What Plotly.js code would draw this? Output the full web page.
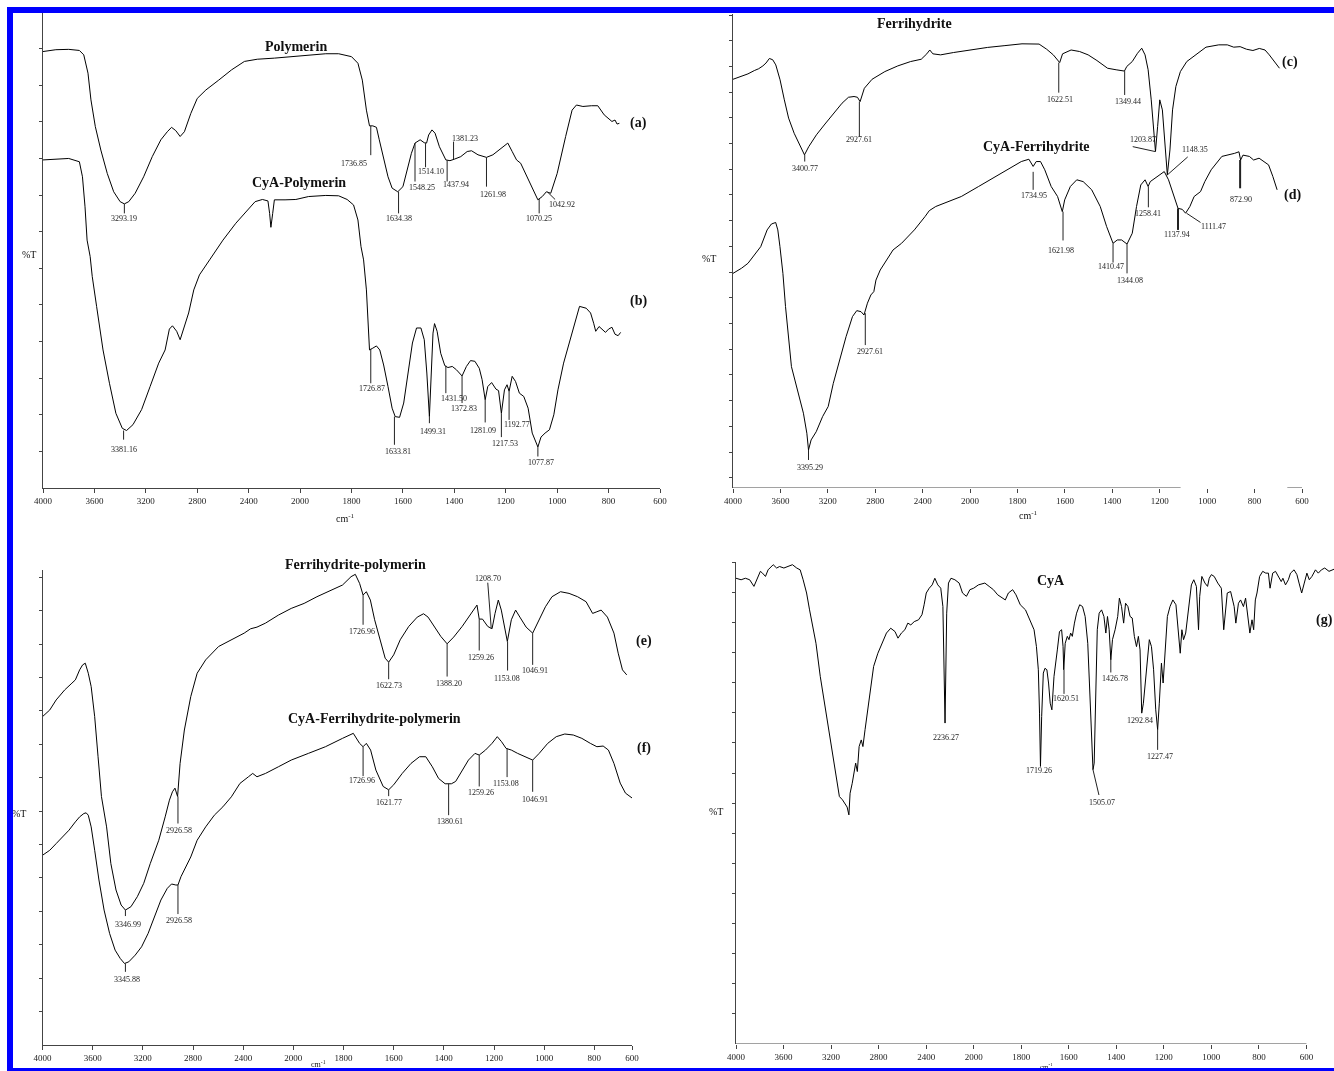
<!DOCTYPE html>
<html><head><meta charset="utf-8">
<script src="https://cdn.plot.ly/plotly-3.0.1.min.js"></script>
<style>
html,body{margin:0;padding:0;background:#fff}
#wrap{position:relative;width:1334px;height:1071px;overflow:hidden}
#chart{width:1334px;height:1071px;filter:grayscale(1)}
.band{position:absolute;background:#0000ff}
</style>
</head><body>
<div id="wrap">
<div id="chart"></div>
<div class="band" style="left:7px;top:7px;width:1327px;height:6px"></div>
<div class="band" style="left:7px;top:7px;width:6px;height:1064px"></div>
<div class="band" style="left:7px;top:1068px;width:1327px;height:3px"></div>
</div>
<script>
// ---------------- DATA (wavenumber cm-1, transmittance in arbitrary %T units) ----------------
const tickLabels = ['4000','3600','3200','2800','2400','2000','1800','1600','1400','1200','1000','800','600'];

// (a) Polymerin
const polymerinWn = [4000,3900,3800,3717,3683,3650,3627,3593,3550,3500,3450,3400,3367,3333,3283,3217,3150,3083,3033,3000,2967,2933,2900,2850,2800,2733,2633,2533,2433,2333,2200,2067,1967,1900,1850,1800,1775,1758,1742,1730,1717,1703,1692,1675,1658,1642,1620,1600,1583,1567,1553,1533,1517,1508,1500,1487,1475,1458,1433,1417,1400,1375,1350,1333,1308,1275,1250,1217,1192,1175,1158,1142,1117,1092,1075,1058,1042,1025,1000,967,942,925,900,867,842,817,800,787,775,767,758];
const polymerinT = [11.92,11.97,11.98,11.95,11.83,11.33,10.60,9.87,9.23,8.59,8.09,7.82,7.76,7.82,8.05,8.50,9.05,9.51,9.73,9.85,9.76,9.60,9.73,10.23,10.64,10.87,11.14,11.42,11.65,11.71,11.74,11.78,11.83,11.86,11.86,11.78,11.60,11.14,10.32,9.89,9.89,9.85,9.51,8.96,8.50,8.19,8.09,8.23,8.69,9.14,9.42,9.51,9.43,9.42,9.64,9.78,9.69,9.32,8.96,8.94,8.98,9.05,9.19,9.21,9.10,9.03,9.10,9.28,9.42,9.19,8.96,8.87,8.50,8.09,7.87,7.96,8.09,8.05,8.59,9.60,10.32,10.46,10.42,10.44,10.44,10.19,10.10,10.01,10.05,9.94,9.96];

// (b) CyA-Polymerin
const cyaPolymerinWn = [4000,3900,3800,3717,3693,3673,3657,3633,3617,3583,3533,3483,3433,3383,3350,3300,3233,3167,3100,3050,3017,2993,2960,2933,2900,2867,2827,2783,2700,2633,2600,2500,2417,2350,2293,2250,2237,2227,2213,2200,2117,2033,1967,1900,1850,1817,1792,1775,1763,1753,1742,1730,1717,1703,1690,1675,1658,1642,1630,1613,1597,1580,1563,1547,1530,1517,1507,1497,1490,1483,1477,1467,1453,1437,1425,1408,1392,1370,1353,1337,1320,1303,1292,1280,1270,1255,1238,1228,1217,1205,1195,1187,1175,1162,1147,1130,1113,1097,1075,1063,1047,1030,1013,997,975,950,930,913,887,870,858,850,837,823,812,800,787,775,763,753];
const cyaPolymerinT = [8.96,8.98,9.00,8.91,8.50,7.68,6.77,6.32,5.78,4.96,3.77,2.86,2.04,1.63,1.57,1.73,2.14,2.77,3.41,3.77,4.34,4.43,4.28,4.05,4.39,4.78,5.41,5.82,6.25,6.60,6.77,7.23,7.55,7.82,7.88,7.84,7.50,7.12,7.50,7.87,7.87,7.88,7.96,7.99,7.98,7.88,7.73,7.32,6.59,6.23,5.41,3.77,3.82,3.88,3.77,3.36,2.77,2.18,1.95,1.93,2.32,3.14,3.96,4.37,4.37,4.05,3.14,1.95,3.14,4.23,4.49,4.28,3.68,3.34,3.29,3.32,3.23,3.06,3.32,3.48,3.46,3.27,2.96,2.41,2.77,2.88,2.70,2.66,2.04,2.68,2.82,2.64,3.05,2.91,2.59,2.50,2.18,1.50,1.12,1.39,1.50,1.59,2.00,2.68,3.41,4.05,4.59,4.96,4.91,4.78,4.50,4.28,4.41,4.32,4.25,4.34,4.39,4.20,4.16,4.25];

// (c) Ferrihydrite
const ferriWn = [4000,3928,3874,3820,3784,3748,3722,3693,3665,3639,3603,3567,3531,3484,3441,3397,3361,3296,3224,3152,3080,3026,2979,2950,2928,2892,2827,2719,2610,2502,2412,2365,2340,2314,2249,2141,2000,1926,1853,1781,1709,1677,1649,1622,1610,1574,1538,1502,1465,1420,1384,1349,1339,1316,1294,1276,1262,1249,1236,1225,1218,1209,1200,1189,1180,1168,1157,1146,1132,1113,1086,1050,1005,951,915,888,861,834,807,780,756,738,716,695];
const ferriT = [15.90,16.01,16.11,16.24,16.31,16.42,16.53,16.71,16.66,16.46,15.88,15.10,14.39,13.80,13.41,12.96,13.28,13.74,14.16,14.58,14.97,15.20,15.23,15.20,15.03,15.55,15.90,16.20,16.42,16.59,16.68,16.89,17.04,16.89,16.85,16.94,17.04,17.14,17.21,17.28,17.27,17.07,16.85,16.55,16.89,17.04,16.98,16.85,16.63,16.33,16.27,16.22,16.40,16.59,16.91,17.11,16.85,16.27,15.10,13.80,13.09,14.06,15.10,14.71,13.54,12.18,13.15,14.71,15.62,16.20,16.59,16.85,17.15,17.24,17.24,17.15,17.17,17.07,17.02,17.10,17.04,16.85,16.59,16.33];

// (d) CyA-Ferrihydrite
const cyaFerriWn = [4000,3928,3874,3820,3766,3712,3676,3640,3622,3604,3579,3557,3532,3507,3478,3442,3406,3377,3363,3341,3298,3244,3197,3154,3100,3046,2992,2956,2920,2895,2866,2837,2812,2794,2758,2704,2650,2578,2470,2380,2344,2290,2182,2074,1964,1892,1838,1784,1752,1734,1721,1703,1685,1658,1631,1611,1601,1577,1550,1523,1487,1451,1424,1397,1379,1361,1338,1316,1298,1280,1262,1249,1240,1208,1181,1163,1145,1123,1105,1091,1073,1055,1028,1010,983,938,884,866,859,849,822,804,781,759,741,723,705];
const cyaFerriT = [8.35,8.55,8.74,9.07,9.39,10.04,10.27,10.33,10.04,9.39,8.35,7.06,5.76,4.72,4.20,3.55,2.91,2.13,1.48,1.87,2.19,2.78,3.17,4.07,4.98,5.89,6.67,6.90,6.86,6.73,7.19,7.51,7.64,8.09,8.48,8.87,9.26,9.52,10.04,10.56,10.79,10.95,11.14,11.34,11.73,12.12,12.38,12.70,12.79,12.51,12.70,12.70,12.38,11.73,11.34,10.75,11.21,11.73,11.99,11.92,11.60,10.95,10.17,9.52,9.65,9.65,9.49,9.91,10.95,11.79,11.99,11.73,11.92,12.12,12.31,11.99,11.47,10.88,10.84,10.69,10.95,11.34,11.53,11.92,12.38,12.90,13.02,13.08,12.76,12.95,12.90,12.76,12.83,12.70,12.57,12.12,11.60];

// (e) Ferrihydrite-polymerin
const ferriPolyWn = [4000,3942,3891,3823,3772,3738,3704,3680,3659,3635,3612,3584,3557,3530,3489,3455,3414,3373,3339,3295,3244,3193,3141,3073,3022,2988,2964,2944,2923,2903,2869,2818,2767,2699,2596,2494,2392,2341,2290,2222,2119,2017,1957,1906,1855,1804,1770,1753,1736,1722,1709,1693,1676,1654,1634,1620,1600,1574,1540,1506,1481,1463,1438,1412,1387,1361,1327,1293,1268,1259,1246,1225,1208,1196,1183,1171,1157,1147,1131,1114,1097,1072,1046,1020,995,969,935,901,867,833,807,790,773,748,722,705,688,671];
const ferriPolyT = [9.83,10.03,10.33,10.63,10.81,10.93,11.23,11.38,11.43,11.13,10.73,9.83,8.63,7.44,6.53,5.43,4.64,4.19,4.04,4.14,4.44,4.84,5.43,6.13,6.83,7.33,7.58,7.69,7.44,8.43,9.43,10.43,11.13,11.53,11.93,12.13,12.33,12.46,12.51,12.63,12.87,13.07,13.22,13.42,13.60,13.77,14.02,14.09,13.82,13.47,13.57,13.32,12.73,12.13,11.58,11.46,11.68,12.13,12.53,12.81,12.91,12.81,12.53,12.23,12.01,12.21,12.53,12.92,13.17,12.75,12.75,12.53,12.46,12.92,13.32,13.02,12.53,12.08,12.73,13.02,12.81,12.51,12.33,12.71,13.12,13.42,13.57,13.52,13.42,13.27,12.92,12.97,13.02,12.81,12.33,11.73,11.23,11.08];

// (f) CyA-Ferrihydrite-polymerin
const cyaFerriPolyWn = [4000,3942,3891,3840,3789,3738,3704,3670,3652,3635,3612,3584,3550,3509,3465,3421,3380,3346,3312,3261,3210,3158,3107,3056,3005,2971,2937,2920,2896,2862,2818,2767,2699,2630,2562,2494,2426,2358,2324,2290,2222,2119,2017,1940,1872,1804,1761,1736,1722,1709,1692,1671,1642,1620,1600,1566,1531,1497,1472,1446,1421,1395,1370,1353,1327,1302,1276,1259,1234,1208,1187,1170,1152,1131,1106,1072,1046,1020,986,952,918,884,850,816,790,765,744,722,697,676,649];
const cyaFerriPolyT = [5.68,5.83,6.03,6.23,6.43,6.68,6.83,6.93,6.95,6.88,6.53,5.83,4.94,4.04,3.34,2.84,2.59,2.44,2.49,2.69,2.94,3.34,3.84,4.34,4.69,4.82,4.79,4.79,5.04,5.28,5.63,6.13,6.53,6.88,7.13,7.43,7.83,8.03,8.13,8.03,8.13,8.33,8.53,8.73,8.93,9.18,9.33,9.03,8.93,9.03,8.83,8.23,7.74,7.64,7.79,8.13,8.43,8.63,8.63,8.33,7.98,7.82,7.82,7.89,8.23,8.53,8.73,8.68,8.83,9.03,9.23,9.08,8.88,8.83,8.73,8.63,8.53,8.73,9.03,9.23,9.31,9.28,9.18,9.03,8.93,8.95,8.83,8.43,7.84,7.54,7.39];

// (g) CyA
const cyaWn = [4000,3957,3921,3885,3849,3831,3795,3777,3752,3730,3705,3687,3658,3633,3597,3561,3525,3489,3460,3435,3406,3381,3356,3327,3291,3255,3219,3183,3155,3130,3104,3083,3065,3050,3040,3022,3004,2993,2979,2964,2946,2932,2914,2878,2842,2806,2770,2734,2698,2662,2637,2608,2579,2554,2529,2500,2464,2435,2417,2399,2374,2349,2327,2302,2277,2259,2241,2227,2212,2191,2158,2122,2094,2061,2032,2000,1980,1953,1935,1917,1899,1881,1867,1854,1836,1822,1804,1782,1764,1746,1736,1728,1723,1719,1714,1707,1700,1692,1685,1678,1671,1662,1648,1639,1630,1624,1621,1615,1606,1599,1592,1585,1576,1567,1554,1542,1531,1520,1513,1505,1498,1493,1487,1480,1472,1462,1452,1444,1437,1430,1423,1416,1405,1394,1387,1378,1369,1361,1351,1342,1333,1324,1315,1307,1300,1293,1286,1279,1268,1261,1252,1243,1234,1226,1219,1210,1203,1196,1185,1174,1162,1149,1138,1131,1124,1117,1108,1095,1084,1074,1063,1054,1049,1040,1027,1016,1009,1000,988,973,958,948,941,933,919,904,897,886,877,865,856,847,838,829,822,815,808,797,784,771,760,753,742,730,717,706,699,688,676,667,652,640,631,620,609,598,588,577,562,550,537,523,505,490,472];
const cyaT = [15.47,15.42,15.47,15.42,15.20,15.36,15.70,15.64,15.53,15.75,15.86,15.92,15.81,15.86,15.81,15.86,15.92,15.81,15.75,15.42,14.98,14.42,13.87,13.31,12.21,11.32,10.44,9.55,8.77,8.22,8.11,8.00,7.87,7.61,8.33,8.66,9.11,9.33,9.05,9.88,10.10,9.88,10.44,11.54,12.54,12.98,13.31,13.65,13.81,13.70,13.48,13.65,13.76,13.98,13.92,14.03,14.09,14.26,14.59,14.98,15.14,15.25,15.47,15.25,15.14,14.53,10.66,14.31,15.31,15.47,15.42,15.31,14.98,14.87,15.09,15.14,15.25,15.31,15.20,15.09,14.92,14.81,14.75,14.98,15.09,14.92,14.59,14.42,14.09,13.76,13.20,12.43,10.99,9.22,10.88,12.32,12.48,12.43,11.99,11.32,11.10,12.21,13.09,13.70,13.76,13.20,12.43,13.31,13.54,13.43,13.65,13.54,13.98,14.31,14.59,14.53,14.20,13.31,11.99,10.21,9.11,9.33,11.54,13.76,14.31,14.42,14.20,13.65,14.20,13.76,12.76,13.43,13.76,14.20,14.81,14.53,13.98,14.64,14.53,14.20,14.15,13.54,13.20,13.54,13.09,10.99,11.32,11.88,12.87,13.43,13.20,12.43,11.10,10.44,11.32,12.65,11.99,12.87,14.20,14.53,14.75,14.59,13.54,12.98,13.76,13.43,13.65,14.64,15.25,15.42,15.20,13.76,14.87,15.53,15.31,15.20,15.47,15.59,15.53,15.31,15.14,13.76,14.31,14.98,15.03,14.53,13.98,14.64,14.75,14.53,14.81,14.20,13.65,14.09,13.76,14.75,14.98,15.53,15.70,15.64,15.64,15.14,15.64,15.70,15.53,15.36,15.47,15.25,15.42,15.64,15.75,15.59,15.31,14.98,15.31,15.64,15.42,15.53,15.75,15.64,15.75,15.81,15.70,15.75,15.81];

// peak labels (cm-1)
const peaksA = [3293.19,1736.85,1634.38,1548.25,1514.10,1437.94,1381.23,1261.98,1070.25,1042.92];
const peaksB = [3381.16,1726.87,1633.81,1499.31,1431.50,1372.83,1281.09,1217.53,1192.77,1077.87];
const peaksC = [3400.77,2927.61,1622.51,1349.44,1203.87,1148.35];
const peaksD = [3395.29,2927.61,1734.95,1621.98,1410.47,1344.08,1258.41,1137.94,1111.47,872.90];
const peaksE = [3346.99,2926.58,1726.96,1622.73,1388.20,1259.26,1208.70,1153.08,1046.91];
const peaksF = [3345.88,2926.58,1726.96,1621.77,1380.61,1259.26,1153.08,1046.91];
const peaksG = [2236.27,1719.26,1620.51,1505.07,1426.78,1292.84,1227.47];

// ---------------- LAYOUT HELPERS ----------------
const W = 1334, H = 1071;
const fx = p => p / W, fy = p => 1 - p / H;
// split wavenumber scale: 4000-2000 compressed by 2 relative to 2000-600
function toU(w){ return w >= 2000 ? (4000 - w) / 400 : 5 + (2000 - w) / 200; }
const SERIF = 'Liberation Serif, Times New Roman, serif';

// panel geometry in pixels: x domain [left,right], y domain [bottom,top], and axis ranges
const panels = {
  A: {xa:'x',  ya:'y',  xd:[43, 660],   xr:[0, 12],    yd:[488, 12],   yr:[0, 13]},
  C: {xa:'x2', ya:'y2', xd:[733, 1302], xr:[0, 12],    yd:[488, 14],   yr:[0, 18.44]},
  E: {xa:'x3', ya:'y3', xd:[42.5, 632], xr:[0, 11.75], yd:[1045, 570], yr:[0, 14.22]},
  G: {xa:'x4', ya:'y4', xd:[736, 1334], xr:[0, 12.58], yd:[1044, 562], yr:[0, 16.01]}
};
function toPaper(P, w, v){
  const u = toU(w);
  const px = P.xd[0] + (u - P.xr[0]) / (P.xr[1] - P.xr[0]) * (P.xd[1] - P.xd[0]);
  const py = P.yd[0] + (v - P.yr[0]) / (P.yr[1] - P.yr[0]) * (P.yd[1] - P.yd[0]);
  return [fx(px), fy(py)];
}

// label geometry: [lineX0, lineY0, lineX1, lineY1, textX, textY, lineWidth]
const posA = [[3367,7.76,3367,7.50,3367,7.36],[1725,9.89,1725,9.09,1792,8.85],[1617,8.09,1617,7.50,1617,7.36],[1553,9.42,1553,8.37,1525,8.21],[1512,9.42,1512,8.76,1492,8.64],[1428,8.95,1428,8.37,1392,8.28],[1403,8.98,1403,9.46,1358,9.55],[1275,9.03,1275,8.23,1250,8.02],[1070,7.90,1070,7.50,1070,7.36],[1037,8.08,1008,7.88,983,7.73]];
const posB = [[3373,1.57,3373,1.32,3373,1.06],[1725,3.80,1725,2.86,1720,2.71],[1633,1.95,1633,1.18,1620,1.00],[1497,1.95,1497,1.77,1483,1.54],[1433,3.34,1433,2.59,1403,2.45],[1370,3.06,1370,2.32,1363,2.18],[1280,2.41,1280,1.79,1288,1.57],[1217,2.04,1217,1.39,1203,1.22],[1187,2.64,1187,1.86,1158,1.74],[1075,1.12,1075,0.86,1063,0.70]];
const posC = [[3395,12.96,3395,12.70,3395,12.44],[2934,15.03,2934,13.67,2938,13.54],[1626,16.55,1626,15.38,1622,15.10],[1348,16.22,1348,15.29,1334,15.03],[1314,13.28,1220,13.09,1271,13.57],[1168,12.18,1082,12.88,1053,13.15]];
const posD = [[3363,1.48,3363,1.09,3352,0.80],[2884,6.80,2884,5.56,2848,5.30],[1734,12.30,1734,11.60,1730,11.36],[1608,10.75,1608,9.63,1618,9.24],[1397,9.52,1397,8.77,1406,8.61],[1338,9.49,1338,8.35,1325,8.07],[1248,11.73,1248,10.92,1248,10.69],[1123,10.88,1123,10.04,1127,9.85,2],[1087,10.69,1028,10.33,974,10.17],[861,12.76,861,11.66,857,11.21,2]];
const posE = [[3339,4.04,3339,3.86,3319,3.62],[2920,7.44,2920,6.63,2910,6.43],[1722,13.47,1722,12.58,1727,12.38],[1620,11.46,1620,10.95,1620,10.75],[1387,12.01,1387,11.03,1378,10.81],[1259,12.75,1259,11.81,1250,11.61],[1225,13.84,1211,12.46,1225,13.97],[1146,12.08,1146,11.21,1148,10.98],[1046,12.33,1046,11.38,1037,11.21]];
const posF = [[3339,2.44,3339,2.19,3329,1.97],[2920,4.79,2920,3.92,2910,3.72],[1722,8.93,1722,8.05,1727,7.92],[1620,7.64,1620,7.45,1617,7.25],[1381,7.82,1381,6.88,1375,6.68],[1259,8.68,1259,7.74,1250,7.55],[1148,8.88,1148,8.02,1153,7.82],[1046,8.53,1046,7.58,1037,7.36]];
const posG = [[null,0,null,0,2230,10.19],[null,0,null,0,1725,9.08],[1620,12.43,1620,11.63,1611,11.49],[1498,9.11,1473,8.27,1459,8.02],[1423,12.76,1423,12.34,1405,12.15],[null,0,null,0,1300,10.75],[1226,10.44,1226,9.77,1216,9.55]];

const shapes = [], annotations = [];
function addPeaks(vals, pos, P){
  vals.forEach((v, i) => {
    const p = pos[i];
    if (p[0] !== null) shapes.push({type:'line', xref:P.xa, yref:P.ya, x0:toU(p[0]), y0:p[1], x1:toU(p[2]), y1:p[3], line:{color:'#222', width:p[6] || 1}});
    const [ax, ay] = toPaper(P, p[4], p[5]);
    annotations.push({xref:'paper', yref:'paper', x:ax, y:ay, text:v.toFixed(2), showarrow:false, xanchor:'center', yanchor:'middle', font:{family:SERIF, size:8, color:'#222'}});
  });
}
addPeaks(peaksA, posA, panels.A);
addPeaks(peaksB, posB, panels.A);
addPeaks(peaksC, posC, panels.C);
addPeaks(peaksD, posD, panels.C);
addPeaks(peaksE, posE, panels.E);
addPeaks(peaksF, posF, panels.E);
addPeaks(peaksG, posG, panels.G);

function title(text, w, v, P, size){
  const [ax, ay] = toPaper(P, w, v);
  annotations.push({xref:'paper', yref:'paper', x:ax, y:ay, text:'<b>'+text+'</b>', showarrow:false, xanchor:'center', yanchor:'middle', font:{family:SERIF, size:size || 14, color:'#111'}});
}
title('Polymerin', 2033, 12.05, panels.A);
title('CyA-Polymerin', 2010, 8.34, panels.A);
title('(a)', 683, 9.96, panels.A);
title('(b)', 683, 5.12, panels.A);
title('Ferrihydrite', 2470, 18.08, panels.C);
title('CyA-Ferrihydrite', 1721, 13.28, panels.C);
title('(c)', 650, 16.59, panels.C);
title('(d)', 641, 11.40, panels.C);
title('Ferrihydrite-polymerin', 1753, 14.37, panels.E);
title('CyA-Ferrihydrite-polymerin', 1676, 9.78, panels.E);
title('(e)', 603, 12.08, panels.E);
title('(f)', 603, 8.88, panels.E);
title('CyA', 1674, 15.40, panels.G);
title('(g)', 523, 14.09, panels.G);

function paperText(text, px, py, size){
  annotations.push({xref:'paper', yref:'paper', x:fx(px), y:fy(py), text:text, showarrow:false, xanchor:'center', yanchor:'middle', font:{family:SERIF, size:size || 10, color:'#111'}});
}
paperText('%T', 29, 254); paperText('%T', 709, 258); paperText('%T', 19, 813); paperText('%T', 716, 811);
paperText('cm<sup>-1</sup>', 345, 518); paperText('cm<sup>-1</sup>', 1028, 515);
paperText('cm<sup>-1</sup>', 318, 1064, 8); paperText('cm<sup>-1</sup>', 1046, 1066, 7);

// broken / partial x-axis base lines
shapes.push({type:'line', xref:'x2', yref:'y2', x0:0, x1:toU(1112), y0:0, y1:0, line:{color:'#444', width:1}});
shapes.push({type:'line', xref:'x2', yref:'y2', x0:toU(662), x1:12, y0:0, y1:0, line:{color:'#444', width:1}});
shapes.push({type:'line', xref:'x4', yref:'y4', x0:0, x1:12, y0:0, y1:0, line:{color:'#444', width:1}});

// ---------------- TRACES ----------------
function spec(wn, t, P){
  return {x: wn.map(toU), y: t, xaxis: P.xa, yaxis: P.ya, type:'scatter', mode:'lines', line:{color:'#000', width:1}, hoverinfo:'skip', showlegend:false};
}
const data = [
  spec(polymerinWn, polymerinT, panels.A),
  spec(cyaPolymerinWn, cyaPolymerinT, panels.A),
  spec(ferriWn, ferriT, panels.C),
  spec(cyaFerriWn, cyaFerriT, panels.C),
  spec(ferriPolyWn, ferriPolyT, panels.E),
  spec(cyaFerriPolyWn, cyaFerriPolyT, panels.E),
  spec(cyaWn, cyaT, panels.G)
];

const seq = n => Array.from({length:n}, (_, i) => i);
function xax(P, anchor, showline, tv, tt){
  return {domain:[fx(P.xd[0]), fx(P.xd[1])], range:P.xr, anchor, showline, linecolor:'#444', linewidth:1, showgrid:false, zeroline:false,
    tickmode:'array', tickvals: tv || seq(13), ticktext: tt || tickLabels, ticks:'outside', ticklen:4, tickcolor:'#444',
    tickfont:{family:SERIF, size:9, color:'#222'}, fixedrange:true};
}
function yax(P, anchor, tv){
  return {domain:[fy(P.yd[0]), fy(P.yd[1])], range:P.yr, anchor, showline:true, linecolor:'#444', linewidth:1, showgrid:false, zeroline:false,
    tickmode:'array', tickvals:tv, showticklabels:false, ticks:'outside', ticklen:3, tickcolor:'#444', fixedrange:true};
}

const layout = {
  width: W, height: H, margin:{l:0, r:0, t:0, b:0}, paper_bgcolor:'#fff', plot_bgcolor:'rgba(0,0,0,0)', showlegend:false,
  xaxis:  xax(panels.A, 'y', true),
  yaxis:  yax(panels.A, 'x', seq(13).map(i => i + 1)),
  xaxis2: xax(panels.C, 'y2', false),
  yaxis2: yax(panels.C, 'x2', seq(19).map(i => i + 0.4)),
  xaxis3: xax(panels.E, 'y3', true, seq(12).concat([11.75]), tickLabels.slice(0, 12).concat(['600'])),
  yaxis3: yax(panels.E, 'x3', seq(14).map(i => i + 1)),
  xaxis4: xax(panels.G, 'y4', false),
  yaxis4: yax(panels.G, 'x4', seq(16).map(i => i + 1)),
  shapes, annotations
};

Plotly.newPlot('chart', data, layout, {displayModeBar:false, staticPlot:true});
</script></body></html>
